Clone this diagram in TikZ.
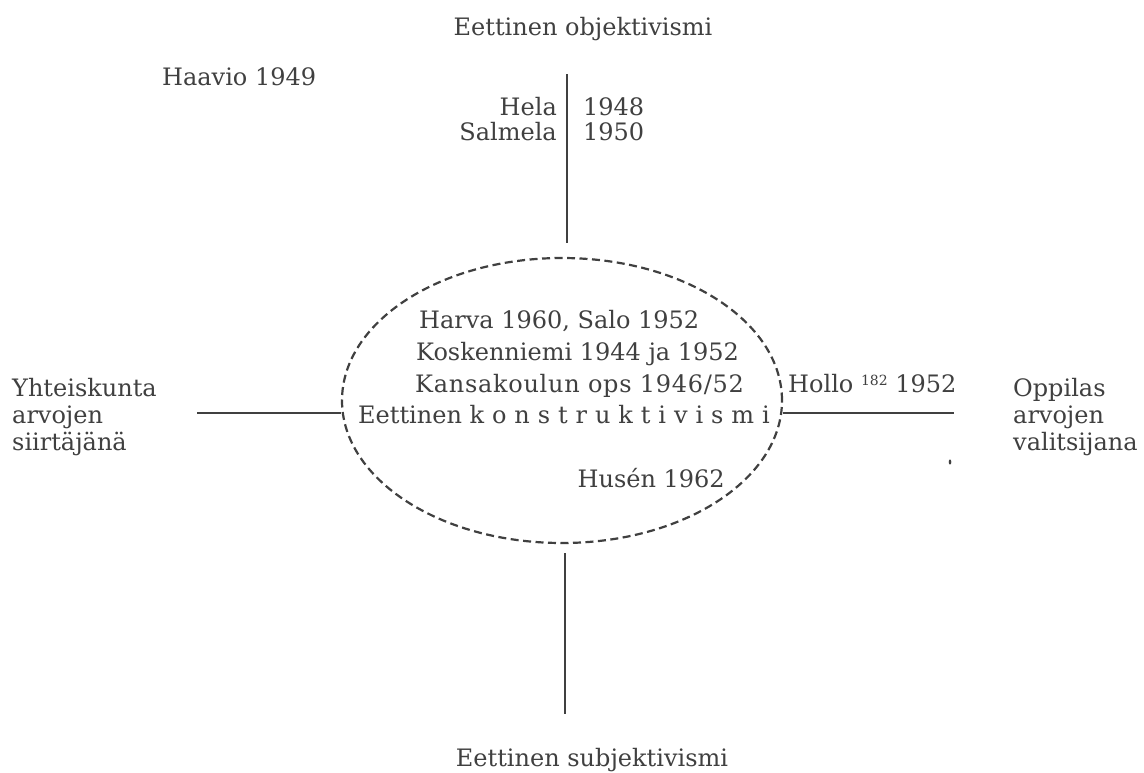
\documentclass[tikz,border=0pt]{standalone}
\usepackage{fontspec}
\usetikzlibrary{shapes.geometric}
\setmainfont{DejaVu Serif}
\begin{document}
\begin{tikzpicture}[x=1pt,y=-1pt,
  lbl/.style={text=ink, font=\fontsize{24}{27}\selectfont, inner sep=0pt},
  axis/.style={draw=ink, line width=2pt},
  ring/.style={draw=ink, line width=2.2pt, dash pattern=on 8pt off 4.5pt}]
\definecolor{ink}{HTML}{404040}
\useasboundingbox[fill=white] (0,0) rectangle (1144,772);

% pole labels
\node[lbl, anchor=base] (top) at (583,35) {Eettinen objektivismi};
\node[lbl, anchor=base] (bottom) at (592,766) {Eettinen subjektivismi};
\node[lbl, anchor=base west] (left1) at (12,396) {Yhteiskunta};
\node[lbl, anchor=base west] (left2) at (12,423) {arvojen};
\node[lbl, anchor=base west] (left3) at (12,450) {siirtäjänä};
\node[lbl, anchor=base west] (right1) at (1013,396) {Oppilas};
\node[lbl, anchor=base west] (right2) at (1013,423) {arvojen};
\node[lbl, anchor=base west] (right3) at (1013,450) {valitsijana};
\node[lbl, anchor=base west] (haavio) at (162,85) {Haavio 1949};

% names beside the upper axis
\node[lbl, anchor=base east] (hela) at (557,115) {Hela};
\node[lbl, anchor=base west] (y48) at (583,115) {1948};
\node[lbl, anchor=base east] (salmela) at (557,140) {Salmela};
\node[lbl, anchor=base west] (y50) at (583,140) {1950};

% central ellipse and its entries
\node[ring, ellipse, minimum width=440pt, minimum height=285pt, inner sep=0pt] (core) at (562,400.5) {};
\node[lbl, anchor=base west] (harva) at (419,328) {Harva 1960, Salo 1952};
\node[lbl, anchor=base west] (kosk) at (416,360) {Koskenniemi 1944 ja 1952};
\node[lbl, anchor=base west] (kansa) at (415,392) {\addfontfeature{LetterSpace=3}Kansakoulun ops 1946/52};
\node[lbl, anchor=base west] (konstr) at (358,423) {Eettinen {\addfontfeature{LetterSpace=33}konstruktivismi}};
\node[lbl, anchor=base east] (husen) at (725,487) {Husén 1962};
\node[lbl, anchor=base west] (hollo) at (788,392) {Hollo {\fontsize{14}{14}\selectfont\raisebox{7pt}{182}} 1952};

% axes
\coordinate (topA) at (567,74);
\coordinate (topB) at (567,243);
\coordinate (botA) at (565,553);
\coordinate (botB) at (565,714);
\coordinate (leftA) at (197,413);
\coordinate (rightB) at (954,413);
\draw[axis] (topA) -- (topB);
\draw[axis] (botA) -- (botB);
\draw[axis] (leftA) -- (core.west |- leftA);
\draw[axis] (core.east |- rightB) -- (rightB);

% small speck
\fill[ink] (950,462) ellipse (1.3pt and 2.6pt);
\end{tikzpicture}
\end{document}
